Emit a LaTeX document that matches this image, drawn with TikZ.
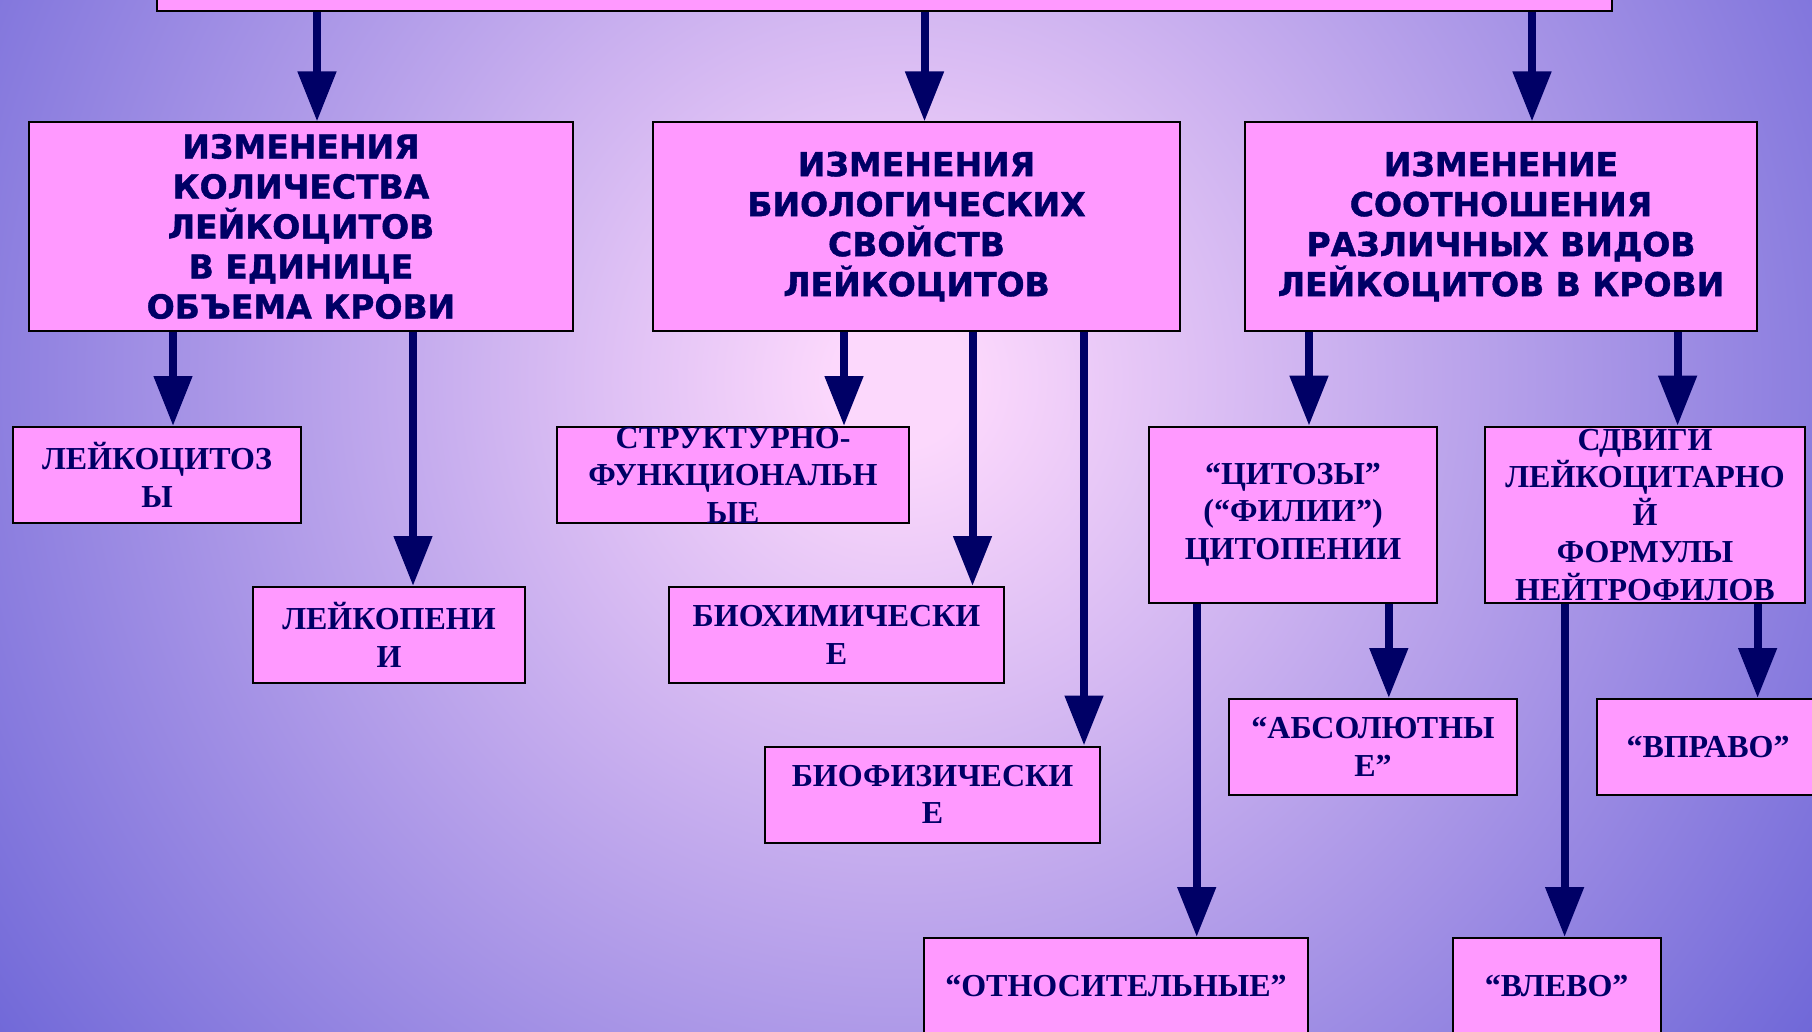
\documentclass[tikz,border=0pt]{standalone}
\usepackage{fontspec}
\usetikzlibrary{arrows.meta}
\newfontfamily\headfont{DejaVu Sans}[BoldFeatures={FakeBold=1.2}]
\newfontfamily\cellfont{Liberation Serif}
\definecolor{glowin}{RGB}{252,216,252}
\definecolor{glowout}{RGB}{112,104,216}
\definecolor{boxpink}{HTML}{FF99FF}
\definecolor{ink}{HTML}{000066}
\pgfdeclareradialshading{bgglow}{\pgfpoint{0bp}{0bp}}{color(0bp)=(glowin); color(1.5bp)=(glowin); color(25bp)=(glowout); color(50bp)=(glowout)}

\begin{document}
\begin{tikzpicture}[x=1pt, y=-1pt,
    box/.style={draw=black, line width=2pt, fill=boxpink, text=ink, align=center, inner xsep=0pt, inner ysep=-14pt},
    head/.style={box, font=\headfont\bfseries\fontsize{33}{40}\selectfont, minimum height=208pt},
    cell/.style={box, font=\cellfont\bfseries\fontsize{32}{37.5}\selectfont, minimum height=96pt},
    arr/.style={draw=ink, line width=8pt, -{Triangle[width=37pt, length=50pt]}}]
    \useasboundingbox (0,0) rectangle (1812,1032);
    \clip (0,0) rectangle (1812,1032);
    \shade[shading=bgglow] (-220,-740) rectangle (2020,1500);

    \node[box, minimum width=1455pt, minimum height=71pt] (top) at (884.5,-24.5) {};
    \node[head, minimum width=544pt] (count) at (301,226.5) {ИЗМЕНЕНИЯ\\КОЛИЧЕСТВА\\ЛЕЙКОЦИТОВ\\В ЕДИНИЦЕ\\ОБЪЕМА КРОВИ};
    \node[head, minimum width=527pt] (props) at (916.5,226.5) {ИЗМЕНЕНИЯ\\БИОЛОГИЧЕСКИХ\\СВОЙСТВ\\ЛЕЙКОЦИТОВ};
    \node[head, minimum width=512pt] (ratio) at (1501,226.5) {ИЗМЕНЕНИЕ\\СООТНОШЕНИЯ\\РАЗЛИЧНЫХ ВИДОВ\\ЛЕЙКОЦИТОВ В КРОВИ};

    \node[cell, minimum width=288pt] (cytosis) at (157,475) {ЛЕЙКОЦИТОЗ\\Ы};
    \node[cell, minimum width=272pt] (penia) at (389,635) {ЛЕЙКОПЕНИ\\И};
    \node[cell, minimum width=352pt] (struct) at (733,475) {СТРУКТУРНО-\\ФУНКЦИОНАЛЬН\\ЫЕ};
    \node[cell, minimum width=335pt] (biochem) at (836.5,635) {БИОХИМИЧЕСКИ\\Е};
    \node[cell, minimum width=335pt] (biophys) at (932.5,794.5) {БИОФИЗИЧЕСКИ\\Е};
    \node[cell, minimum width=288pt, minimum height=176pt] (cytoses) at (1293,514.7) {“ЦИТОЗЫ”\\(“ФИЛИИ”)\\ЦИТОПЕНИИ};
    \node[cell, minimum width=320pt, minimum height=176pt] (shift) at (1645,514.7) {СДВИГИ\\ЛЕЙКОЦИТАРНО\\Й\\ФОРМУЛЫ\\НЕЙТРОФИЛОВ};
    \node[cell, minimum width=288pt] (absol) at (1373,747) {“АБСОЛЮТНЫ\\Е”};
    \node[cell, minimum width=222pt] (toright) at (1708,747) {“ВПРАВО”};
    \node[cell, minimum width=384pt] (relat) at (1116,986) {“ОТНОСИТЕЛЬНЫЕ”};
    \node[cell, minimum width=208pt] (toleft) at (1556.6,986) {“ВЛЕВО”};

    \draw[arr] ([xshift=16pt]count.north |- top.south) -- ([xshift=16pt]count.north);
    \draw[arr] ([xshift=8pt]props.north |- top.south) -- ([xshift=8pt]props.north);
    \draw[arr] ([xshift=31pt]ratio.north |- top.south) -- ([xshift=31pt]ratio.north);
    \draw[arr] ([xshift=16pt]cytosis.north |- count.south) -- ([xshift=16pt]cytosis.north);
    \draw[arr] ([xshift=24pt]penia.north |- count.south) -- ([xshift=24pt]penia.north);
    \draw[arr] ([xshift=111pt]struct.north |- props.south) -- ([xshift=111pt]struct.north);
    \draw[arr] ([xshift=136pt]biochem.north |- props.south) -- ([xshift=136pt]biochem.north);
    \draw[arr] ([xshift=151.5pt]biophys.north |- props.south) -- ([xshift=151.5pt]biophys.north);
    \draw[arr] ([xshift=16pt]cytoses.north |- ratio.south) -- ([xshift=16pt]cytoses.north);
    \draw[arr] ([xshift=32.6pt]shift.north |- ratio.south) -- ([xshift=32.6pt]shift.north);
    \draw[arr] ([xshift=80.7pt]relat.north |- cytoses.south) -- ([xshift=80.7pt]relat.north);
    \draw[arr] ([xshift=15.8pt]absol.north |- cytoses.south) -- ([xshift=15.8pt]absol.north);
    \draw[arr] ([xshift=8pt]toleft.north |- shift.south) -- ([xshift=8pt]toleft.north);
    \draw[arr] ([xshift=49.6pt]toright.north |- shift.south) -- ([xshift=49.6pt]toright.north);
\end{tikzpicture}
\end{document}
